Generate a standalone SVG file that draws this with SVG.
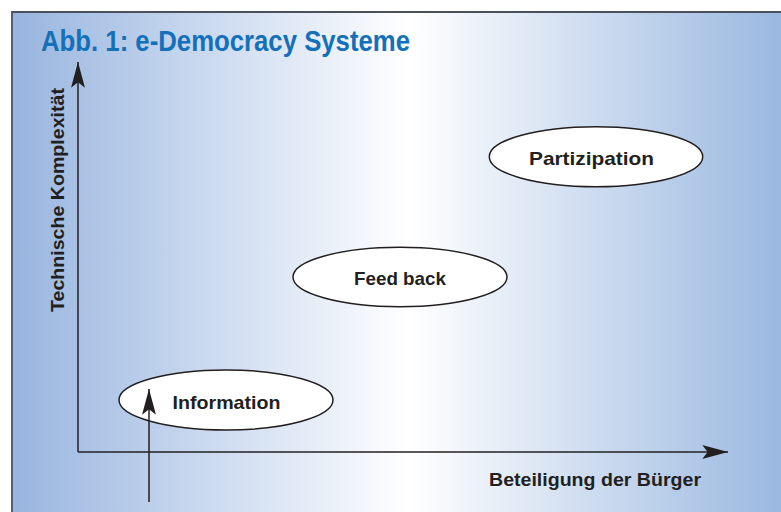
<svg xmlns="http://www.w3.org/2000/svg" width="781" height="512" viewBox="0 0 781 512">
  <style>
    .lbl { font-family: "Liberation Sans", Arial, sans-serif; font-weight: bold; font-size: 19px; fill: #231f20; }
    .title { font-family: "Liberation Sans", Arial, sans-serif; font-weight: bold; font-size: 30px; fill: #1470b8; }
    .node { fill: #ffffff; stroke: #231f20; stroke-width: 1.5; }
    .conn { fill: none; stroke: #231f20; stroke-width: 1.5; marker-end: url(#arr); }
  </style>
  <defs>
    <linearGradient id="bg" gradientUnits="userSpaceOnUse" x1="12" y1="0" x2="781" y2="0">
      <stop offset="0" stop-color="#98b5df"/>
      <stop offset="0.5176" stop-color="#ffffff"/>
      <stop offset="1" stop-color="#9ab8e0"/>
    </linearGradient>
    <marker id="arr" markerUnits="userSpaceOnUse" markerWidth="30" markerHeight="20" viewBox="-26 -8 28 16" refX="0" refY="0" orient="auto" overflow="visible">
      <path d="M0,0 L-24,-6.5 L-19,0 L-24,6.5 Z" fill="#231f20"/>
    </marker>
  </defs>

  <rect x="0" y="0" width="781" height="512" fill="#ffffff"/>
  <rect x="12" y="12" width="769" height="500" fill="url(#bg)"/>
  <path d="M12,512 L12,12 L781,12" fill="none" stroke="#4a505c" stroke-width="1.8"/>

  <text class="title" x="41" y="51" textLength="369" lengthAdjust="spacingAndGlyphs">Abb. 1: e-Democracy Systeme</text>

  <text class="lbl" transform="translate(63.5,312) rotate(-90)" x="0" y="0" textLength="224" lengthAdjust="spacingAndGlyphs">Technische Komplexität</text>
  <text class="lbl" x="489" y="486" textLength="212" lengthAdjust="spacingAndGlyphs">Beteiligung der Bürger</text>

  <g id="node-information">
    <ellipse class="node" cx="226" cy="400" rx="107" ry="30"/>
    <text class="lbl" x="172.5" y="409" textLength="108" lengthAdjust="spacingAndGlyphs">Information</text>
  </g>
  <g id="node-feedback">
    <ellipse class="node" cx="400" cy="277" rx="107" ry="29.7"/>
    <text class="lbl" x="354" y="285" textLength="92" lengthAdjust="spacingAndGlyphs">Feed back</text>
  </g>
  <g id="node-partizipation">
    <ellipse class="node" cx="596" cy="156.7" rx="106.7" ry="30"/>
    <text class="lbl" x="529" y="164.5" textLength="125" lengthAdjust="spacingAndGlyphs">Partizipation</text>
  </g>

  <g id="connectors">
    <line class="conn" x1="78" y1="452" x2="78" y2="62"/>
    <line class="conn" x1="78" y1="452" x2="728" y2="452"/>
    <line class="conn" x1="149" y1="502" x2="149" y2="389"/>
  </g>
</svg>
